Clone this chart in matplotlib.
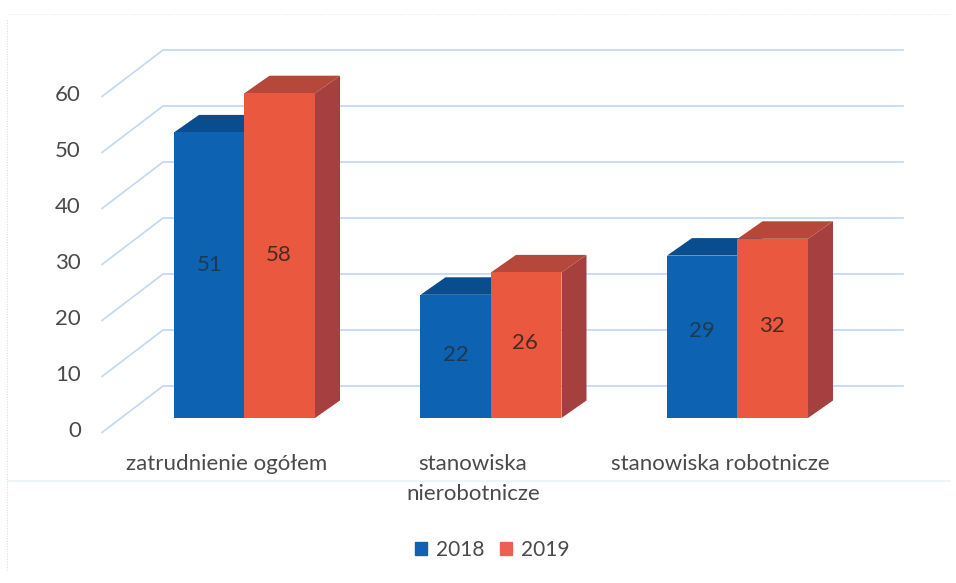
"""3D-style clustered bars: employment by position type, 2018 vs 2019."""

import matplotlib
matplotlib.use('Agg')
import matplotlib.pyplot as plt
from matplotlib.patches import Patch

CATEGORIES = ['zatrudnienie ogółem', 'stanowiska\nnierobotnicze', 'stanowiska robotnicze']
VALUES_2018 = [51, 22, 29]
VALUES_2019 = [58, 26, 32]
TICKS = [0, 10, 20, 30, 40, 50, 60]

W, H = 956, 583
PX_X = 246.5  # pixels per category
PX_Y = 5.6    # pixels per value unit
X0, Y0 = 244.5, 418  # pixel of first category centre / value zero

BAR_W = 70.5 / PX_X
DX, DY = 25 / PX_X, 17.5 / PX_Y  # bar depth

TEXT = '#4a4a4a'
FONT = 'Lato'

plt.rcParams['font.family'] = [FONT, 'DejaVu Sans']
fig = plt.figure(figsize=(W / 100, H / 100), dpi=100)
ax = fig.add_axes([0, 0, 1, 1])
ax.set_xlim(-X0 / PX_X, (W - X0) / PX_X)
ax.set_ylim((Y0 - H) / PX_Y, Y0 / PX_Y)
ax.axis('off')


def px(x):
    return (x - X0) / PX_X


def py(y):
    return (Y0 - y) / PX_Y


# scan artefacts around the pasted chart
ax.plot([px(7), px(7)], [py(20), py(570)], color='#d8d8d8', lw=0.7, ls=':')
ax.plot([px(8), px(950)], [py(14), py(14)], color='#e6e6e6', lw=0.7, ls=':')
ax.plot([px(8), px(950)], [py(481), py(481)], color='#eaf5f6', lw=1.2)

# walls: floor diagonal plus back gridline per tick
for t in TICKS:
    ax.plot([px(102), px(163), px(903)],
            [py(432.5) + t, py(386) + t, py(386) + t],
            color='#c5daf4', lw=1.3, zorder=1)
    ax.text(px(81), py(431) + t, str(t), ha='right', va='center',
            fontsize=16, color=TEXT)


def bar(x_left, v, front, top, side, z):
    x_right = x_left + BAR_W
    ax.fill([x_right, x_right + DX, x_right + DX, x_right],
            [0, DY, v + DY, v], color=side, lw=0, zorder=z)
    ax.fill([x_left, x_left + DX, x_right + DX, x_right],
            [v, v + DY, v + DY, v], color=top, lw=0, zorder=z)
    ax.fill([x_left, x_right, x_right, x_left],
            [0, 0, v, v], color=front, lw=0, zorder=z + 0.1)


for i, (a, b) in enumerate(zip(VALUES_2018, VALUES_2019)):
    bar(i - BAR_W, a, '#0d62b1', '#0a4d8e', '#0a4d8e', 2 + i)
    bar(i, b, '#e9583f', '#b5483a', '#a5403f', 2.2 + i)

# data labels sit near mid-height, slightly off centre in the original
nudge_2018 = [1.8, 0.2, 1.0]
nudge_2019 = [0.1, 0.4, 0.5]
for i in range(len(CATEGORIES)):
    ax.text(i - BAR_W / 2, VALUES_2018[i] / 2 + nudge_2018[i], str(VALUES_2018[i]),
            ha='center', va='center', fontsize=16, color='#1d3a55', zorder=10)
    ax.text(i + BAR_W / 2 - 0.004, VALUES_2019[i] / 2 + nudge_2019[i], str(VALUES_2019[i]),
            ha='center', va='center', fontsize=16, color='#4a2a22', zorder=10)

# category labels
label_x = [227, 473, 720]
for x, name in zip(label_x, CATEGORIES):
    ax.text(px(x), py(454), name, ha='center', va='top', fontsize=16,
            color=TEXT, linespacing=1.62)

handles = [Patch(color='#1261b3', label='2018'), Patch(color='#ec5f52', label='2019')]
fig.legend(handles=handles, loc='center', bbox_to_anchor=(492 / W, 1 - 550 / H), ncol=2,
           frameon=False, fontsize=15, labelcolor=TEXT, handlelength=0.6,
           handleheight=0.6, handletextpad=0.4, columnspacing=0.75)

fig.savefig('out.png', dpi=100, facecolor='white')
